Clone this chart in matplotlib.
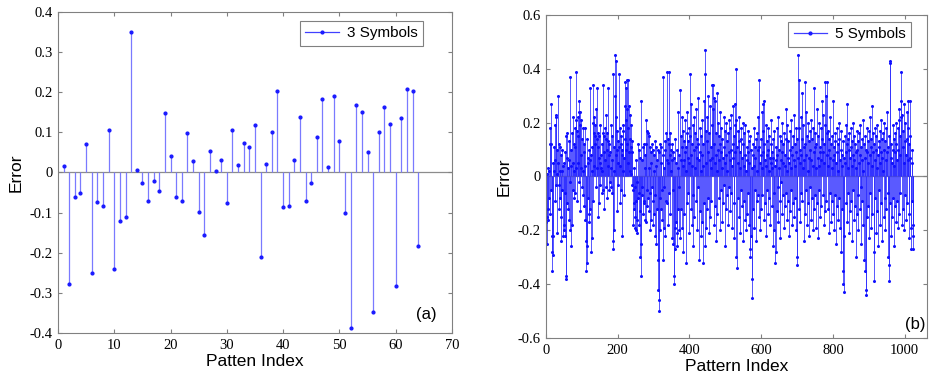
import numpy as np
import matplotlib
matplotlib.use("Agg")
import matplotlib.pyplot as plt
from matplotlib.lines import Line2D
from matplotlib.legend_handler import HandlerLine2D

# ---- data: (a) 3 symbols, 64 patterns ----
err3 = [0.015, -0.277, -0.061, -0.050, 0.070, -0.250, -0.073, -0.083,
        0.107, -0.240, -0.122, -0.112, 0.349, 0.006, -0.025, -0.070,
        -0.021, -0.045, 0.148, 0.041, -0.060, -0.071, 0.099, 0.028,
        -0.099, -0.157, 0.054, 0.003, 0.030, -0.076, 0.107, 0.019,
        0.073, 0.064, 0.119, -0.211, 0.020, 0.102, 0.204, -0.087,
        -0.083, 0.031, 0.139, -0.071, -0.026, 0.088, 0.183, 0.013,
        0.191, 0.079, -0.102, -0.388, 0.168, 0.150, 0.050, -0.348,
        0.102, 0.164, 0.121, -0.283, 0.135, 0.207, 0.203, -0.183]

# ---- data: (b) 5 symbols, 1024 patterns (estimated from the figure) ----
err5 = [
    -0.17, -0.15, 0.01, -0.25, -0.12, -0.16, 0.03, -0.08, 0.02, -0.14, 0.18, 0.12, 0.27, -0.05, 0.12, -0.28,
    -0.35, -0.22, -0.29, 0.05, -0.22, 0.11, 0.02, 0.19, -0.09, 0.06, 0.23, -0.03, 0.22, -0.21, 0.10, 0.01,
    0.30, 0.05, -0.12, 0.12, -0.03, -0.08, 0.11, 0.02, -0.15, -0.24, 0.08, 0.02, -0.05, 0.10, -0.22, 0.04,
    -0.18, 0.05, -0.20, -0.06, 0.09, -0.22, 0.15, -0.37, -0.38, 0.07, -0.10, 0.16, 0.03, -0.12, 0.06, -0.16,
    0.13, -0.02, -0.20, 0.37, 0.10, -0.26, 0.04, 0.16, -0.18, 0.05, 0.22, -0.05, 0.12, -0.08, 0.02, 0.18,
    -0.06, 0.11, 0.21, 0.03, 0.39, 0.17, -0.09, 0.22, 0.05, 0.15, -0.02, 0.28, 0.24, 0.19, 0.24, -0.13,
    0.08, 0.21, 0.03, -0.04, 0.14, 0.18, -0.07, 0.02, 0.12, -0.11, 0.09, 0.04, -0.16, 0.18, -0.24, -0.35,
    -0.32, 0.14, -0.26, 0.05, 0.07, -0.08, 0.10, -0.14, -0.17, 0.33, 0.06, -0.12, 0.08, -0.28, -0.23, 0.02,
    0.11, 0.20, -0.09, 0.34, 0.16, 0.04, 0.22, 0.15, 0.19, 0.12, 0.25, -0.04, 0.33, 0.14, 0.03, 0.16,
    -0.15, 0.11, 0.07, -0.10, 0.15, 0.05, -0.03, 0.19, 0.08, 0.03, -0.06, 0.02, 0.12, 0.34, -0.05, 0.16,
    0.09, 0.15, -0.12, 0.18, 0.06, -0.04, 0.14, 0.23, 0.10, -0.08, 0.16, 0.33, 0.04, 0.13, -0.05, 0.08,
    0.12, -0.02, 0.09, 0.19, 0.03, -0.04, 0.15, 0.06, -0.06, -0.27, -0.24, 0.38, 0.11, -0.20, 0.02, 0.30,
    0.45, 0.43, 0.22, 0.08, -0.13, 0.10, 0.17, 0.05, -0.03, 0.13, 0.38, 0.11, -0.10, 0.18, 0.04, 0.12,
    -0.05, 0.15, 0.08, -0.22, 0.10, 0.19, 0.02, 0.17, 0.07, -0.07, 0.14, 0.35, 0.26, 0.10, 0.33, 0.21,
    0.36, 0.12, 0.25, 0.05, 0.36, 0.18, 0.26, 0.09, 0.23, 0.14, 0.02, 0.19, 0.11, 0.01, -0.03, 0.13,
    0.09, -0.05, -0.18, -0.10, -0.12, 0.03, -0.15, -0.04, -0.19, -0.20, -0.09, 0.06, -0.21, -0.16, -0.02, -0.08,
    0.12, -0.06, -0.18, 0.10, 0.07, -0.13, -0.30, -0.25, 0.28, -0.37, -0.07, 0.06, -0.04, 0.11, -0.14, -0.10,
    -0.09, 0.12, -0.16, 0.03, 0.08, 0.12, -0.17, 0.21, 0.17, -0.05, -0.11, 0.16, -0.08, 0.15, 0.03, -0.13,
    0.11, -0.20, -0.06, 0.09, -0.16, 0.05, 0.12, -0.04, -0.18, 0.10, -0.09, 0.02, -0.14, 0.08, -0.22, 0.13,
    -0.07, 0.11, -0.25, 0.04, -0.12, 0.06, -0.31, 0.10, -0.42, -0.50, -0.46, 0.09, -0.08, 0.12, -0.20, 0.05,
    -0.12, 0.11, -0.05, -0.16, 0.08, 0.37, -0.31, -0.19, 0.03, -0.04, 0.13, -0.22, 0.10, 0.16, -0.09, 0.06,
    0.39, -0.10, 0.05, 0.14, -0.18, 0.39, 0.12, -0.06, 0.08, 0.16, -0.14, 0.02, 0.10, -0.23, 0.06, 0.12,
    -0.05, 0.09, -0.25, -0.40, -0.37, 0.07, -0.19, 0.14, -0.27, -0.17, 0.05, -0.21, 0.10, -0.26, 0.03, -0.12,
    0.24, -0.20, 0.08, -0.04, 0.32, -0.23, 0.15, 0.06, -0.12, 0.22, 0.11, -0.19, 0.17, 0.04, -0.28, 0.13,
    0.06, -0.14, 0.21, 0.09, -0.32, 0.11, 0.02, 0.16, -0.10, 0.24, 0.07, -0.06, 0.13, 0.18, -0.21, 0.05,
    0.38, 0.15, -0.12, 0.27, 0.08, -0.18, 0.12, 0.04, -0.26, 0.19, -0.07, 0.10, 0.22, -0.15, 0.03, 0.16,
    -0.09, 0.11, 0.25, -0.20, 0.07, 0.14, -0.04, 0.29, 0.12, -0.31, 0.06, 0.18, -0.13, 0.09, 0.02, -0.22,
    0.15, 0.08, -0.17, 0.21, 0.04, -0.32, 0.12, 0.28, -0.10, 0.47, 0.38, -0.26, 0.17, 0.05, -0.19, 0.13,
    0.22, -0.12, 0.09, 0.30, -0.08, 0.16, -0.21, 0.06, 0.26, -0.15, 0.11, 0.03, -0.09, 0.19, 0.34, 0.07,
    0.34, 0.25, -0.18, 0.12, 0.29, 0.05, -0.11, 0.28, 0.16, -0.24, 0.08, 0.31, 0.02, -0.14, 0.20, 0.10,
    -0.08, 0.15, 0.06, -0.20, 0.12, 0.24, -0.05, 0.09, 0.18, -0.17, 0.03, 0.14, -0.10, 0.07, 0.22, -0.03,
    0.11, -0.26, 0.05, 0.17, -0.12, 0.08, 0.20, -0.07, 0.13, 0.02, -0.18, 0.16, 0.09, -0.04, 0.21, 0.06,
    -0.13, 0.18, 0.10, -0.06, 0.23, 0.04, -0.19, 0.12, 0.26, 0.07, -0.10, 0.15, -0.23, 0.19, 0.09, 0.27,
    -0.30, 0.40, 0.21, -0.34, 0.11, 0.17, -0.08, 0.05, 0.22, -0.15, 0.13, 0.03, -0.21, 0.09, 0.18, -0.05,
    0.14, -0.11, 0.07, 0.20, -0.24, 0.12, 0.04, -0.09, 0.16, 0.19, -0.16, 0.08, 0.02, -0.20, 0.11, 0.06,
    -0.14, 0.17, 0.09, -0.06, 0.13, -0.18, 0.05, 0.15, -0.27, -0.30, 0.10, -0.22, 0.03, -0.45, -0.38, 0.12,
    0.08, -0.12, 0.18, 0.04, -0.19, 0.11, 0.07, -0.05, 0.14, -0.24, 0.02, 0.16, -0.09, 0.10, 0.22, -0.07,
    0.36, -0.15, 0.11, 0.05, -0.20, 0.14, 0.08, -0.12, 0.24, 0.03, -0.07, 0.17, 0.27, 0.09, -0.16, 0.12,
    0.28, 0.06, -0.10, 0.19, 0.04, -0.22, 0.13, 0.08, -0.05, 0.18, 0.10, -0.14, 0.02, 0.15, -0.08, 0.07,
    -0.18, 0.12, 0.05, 0.21, -0.11, 0.09, 0.03, -0.26, 0.14, 0.07, -0.06, 0.17, -0.20, 0.04, -0.32, -0.28,
    0.11, 0.06, -0.13, 0.18, 0.08, -0.04, 0.22, -0.17, 0.10, 0.03, -0.09, 0.15, -0.23, 0.06, 0.13, -0.02,
    0.09, -0.14, 0.20, 0.05, -0.07, 0.12, -0.19, 0.16, 0.04, -0.11, 0.08, 0.25, -0.06, 0.14, 0.02, -0.16,
    0.19, 0.07, -0.09, 0.13, -0.22, 0.05, 0.17, 0.10, -0.13, 0.03, 0.21, -0.05, 0.11, -0.18, 0.08, 0.15,
    -0.10, 0.06, 0.23, -0.15, 0.12, 0.04, -0.08, 0.18, 0.09, -0.20, 0.14, -0.33, -0.30, 0.07, 0.45, 0.36,
    0.18, -0.12, 0.10, 0.05, -0.17, 0.22, 0.08, -0.06, 0.14, 0.31, -0.09, 0.03, 0.19, -0.24, 0.11, 0.06,
    -0.14, 0.35, 0.12, -0.05, 0.24, 0.08, -0.18, 0.15, 0.02, -0.10, 0.20, 0.07, -0.22, 0.13, 0.17, -0.04,
    0.10, -0.16, 0.06, 0.21, -0.08, 0.14, 0.04, -0.20, 0.18, 0.09, -0.12, 0.33, 0.11, -0.07, 0.16, 0.03,
    -0.19, 0.12, 0.25, -0.10, 0.07, 0.15, -0.23, 0.04, 0.20, -0.05, 0.11, 0.09, -0.15, 0.18, 0.06, -0.11,
    0.14, 0.28, -0.07, 0.09, 0.23, -0.18, 0.12, 0.05, -0.13, 0.19, 0.35, 0.30, -0.09, 0.16, 0.35, 0.08,
    -0.12, 0.17, 0.04, -0.21, 0.10, 0.14, -0.06, 0.22, 0.07, -0.17, 0.12, 0.03, -0.09, 0.15, 0.28, -0.14,
    0.06, 0.11, -0.20, 0.08, 0.16, -0.07, 0.13, -0.25, 0.05, 0.18, -0.11, 0.09, 0.02, -0.16, 0.12, 0.20,
    -0.08, 0.14, 0.06, -0.19, 0.10, -0.28, 0.17, 0.04, -0.12, 0.08, -0.35, 0.13, -0.40, -0.43, 0.07, -0.22,
    0.15, 0.05, -0.10, 0.19, 0.09, -0.17, 0.12, 0.27, -0.06, 0.14, 0.03, -0.21, 0.10, 0.16, -0.13, 0.07,
    0.18, -0.09, 0.11, 0.04, -0.24, 0.13, 0.20, -0.05, 0.08, -0.16, 0.15, 0.06, -0.11, 0.12, -0.30, 0.09,
    0.03, -0.14, 0.17, 0.10, -0.07, 0.13, -0.20, 0.05, 0.16, -0.12, 0.08, 0.19, -0.04, 0.11, -0.25, 0.06,
    0.14, -0.09, 0.21, 0.02, -0.18, 0.12, -0.31, 0.07, 0.15, -0.35, 0.10, -0.42, -0.44, 0.09, -0.15, 0.18,
    0.05, -0.11, 0.13, -0.23, 0.17, 0.08, -0.06, 0.22, 0.11, -0.19, 0.14, 0.26, 0.04, -0.14, 0.09, 0.16,
    -0.39, -0.28, 0.12, -0.08, 0.18, 0.06, -0.21, 0.10, 0.15, -0.13, 0.03, 0.19, -0.26, 0.08, 0.13, -0.05,
    0.11, 0.17, -0.18, 0.05, 0.21, -0.10, 0.09, 0.14, -0.24, 0.07, 0.16, 0.02, -0.15, 0.20, 0.10, -0.08,
    0.13, -0.20, 0.06, 0.18, -0.12, 0.09, 0.24, -0.06, -0.30, 0.11, -0.39, -0.33, 0.15, 0.43, 0.42, -0.10,
    0.07, -0.22, 0.12, 0.05, -0.15, 0.19, 0.10, -0.08, 0.14, -0.26, 0.04, 0.16, -0.11, 0.09, 0.20, -0.17,
    0.12, 0.06, -0.09, 0.18, -0.19, 0.10, 0.25, 0.21, -0.14, 0.08, -0.06, 0.15, 0.28, 0.22, 0.39, -0.18,
    0.23, 0.11, -0.12, 0.17, 0.05, -0.20, 0.27, 0.13, -0.07, 0.20, 0.08, -0.16, 0.14, 0.24, -0.10, 0.06,
    0.18, 0.28, -0.23, 0.12, -0.14, 0.15, 0.07, 0.28, -0.27, -0.19, 0.10, -0.09, 0.05, -0.27, -0.22, -0.18,
]

x3 = np.arange(1, len(err3) + 1)
x5 = np.arange(1, len(err5) + 1)

serif = ['Liberation Serif', 'DejaVu Serif']
sans = ['Liberation Sans', 'DejaVu Sans']


class EndDot(HandlerLine2D):
    # marker at the right end of the legend line, like matlab stem
    def get_xdata(self, legend, xdescent, ydescent, width, height, fontsize):
        xd, _ = super().get_xdata(legend, xdescent, ydescent, width, height, fontsize)
        return xd, [xd[-1]]


def style_axes(ax):
    for s in ax.spines.values():
        s.set_color('#808080')
        s.set_linewidth(0.8)
    ax.tick_params(direction='in', top=True, right=True, length=3,
                   color='#808080', labelsize=10.5, pad=4)
    for lbl in ax.get_xticklabels() + ax.get_yticklabels():
        lbl.set_family(serif)


def add_legend(ax, label, anchor):
    h = Line2D([], [], color='#4040ff', lw=0.9, marker='.', markersize=4,
               markerfacecolor='#1a1aff', markeredgecolor='#1a1aff')
    leg = ax.legend([h], [label], loc='upper right', bbox_to_anchor=anchor,
                    handler_map={h: EndDot()}, prop={'family': sans, 'size': 11},
                    fancybox=False, framealpha=1, edgecolor='#808080',
                    handlelength=2.2, borderaxespad=0, borderpad=0.35,
                    handletextpad=0.5)
    leg.get_frame().set_linewidth(0.8)
    return leg


fig = plt.figure(figsize=(9.32, 3.81), dpi=100)

# ---- (a) ----
ax1 = fig.add_axes([0.0622, 0.126, 0.4227, 0.8425])
ax1.axhline(0, color='#8c8c8c', lw=0.9, zorder=1)
ml, sl, bl = ax1.stem(x3, err3, linefmt='-', markerfmt='.', basefmt=' ')
sl.set_color('#7a7aff')
sl.set_linewidth(0.9)
ml.set_color('#1a1aff')
ml.set_markersize(4)
ax1.set_xlim(0, 70)
ax1.set_ylim(-0.4, 0.4)
ax1.set_xticks(np.arange(0, 71, 10))
ax1.set_yticks(np.arange(-0.4, 0.41, 0.1))
ax1.set_yticklabels(['-0.4', '-0.3', '-0.2', '-0.1', '0', '0.1', '0.2', '0.3', '0.4'])
style_axes(ax1)
ax1.set_xlabel('Patten Index', family=sans, fontsize=12.5, labelpad=2)
ax1.set_ylabel('Error', family=sans, fontsize=12.5, labelpad=4)
add_legend(ax1, '3 Symbols', (0.926, 0.972))
ax1.text(0.96, 0.035, '(a)', transform=ax1.transAxes, ha='right', va='bottom',
         family=sans, fontsize=12)

# ---- (b) ----
ax2 = fig.add_axes([0.5858, 0.1129, 0.4088, 0.8478])
ax2.axhline(0, color='#8c8c8c', lw=0.9, zorder=1)
ml, sl, bl = ax2.stem(x5, err5, linefmt='-', markerfmt='.', basefmt=' ')
sl.set_color('#2a2aff')
sl.set_linewidth(0.7)
sl.set_alpha(0.8)
ml.set_color('#1010ff')
ml.set_markersize(2.4)
ax2.set_xlim(0, 1062)
ax2.set_ylim(-0.6, 0.6)
ax2.set_xticks(np.arange(0, 1001, 200))
ax2.set_yticks(np.arange(-0.6, 0.61, 0.2))
ax2.set_yticklabels(['-0.6', '-0.4', '-0.2', '0', '0.2', '0.4', '0.6'])
style_axes(ax2)
ax2.set_xlabel('Pattern Index', family=sans, fontsize=12.5, labelpad=2)
ax2.set_ylabel('Error', family=sans, fontsize=12.5, labelpad=4)
add_legend(ax2, '5 Symbols', (0.958, 0.978))
ax2.text(0.995, 0.02, '(b)', transform=ax2.transAxes, ha='right', va='bottom',
         family=sans, fontsize=12)

fig.savefig('out.png', dpi=100)
